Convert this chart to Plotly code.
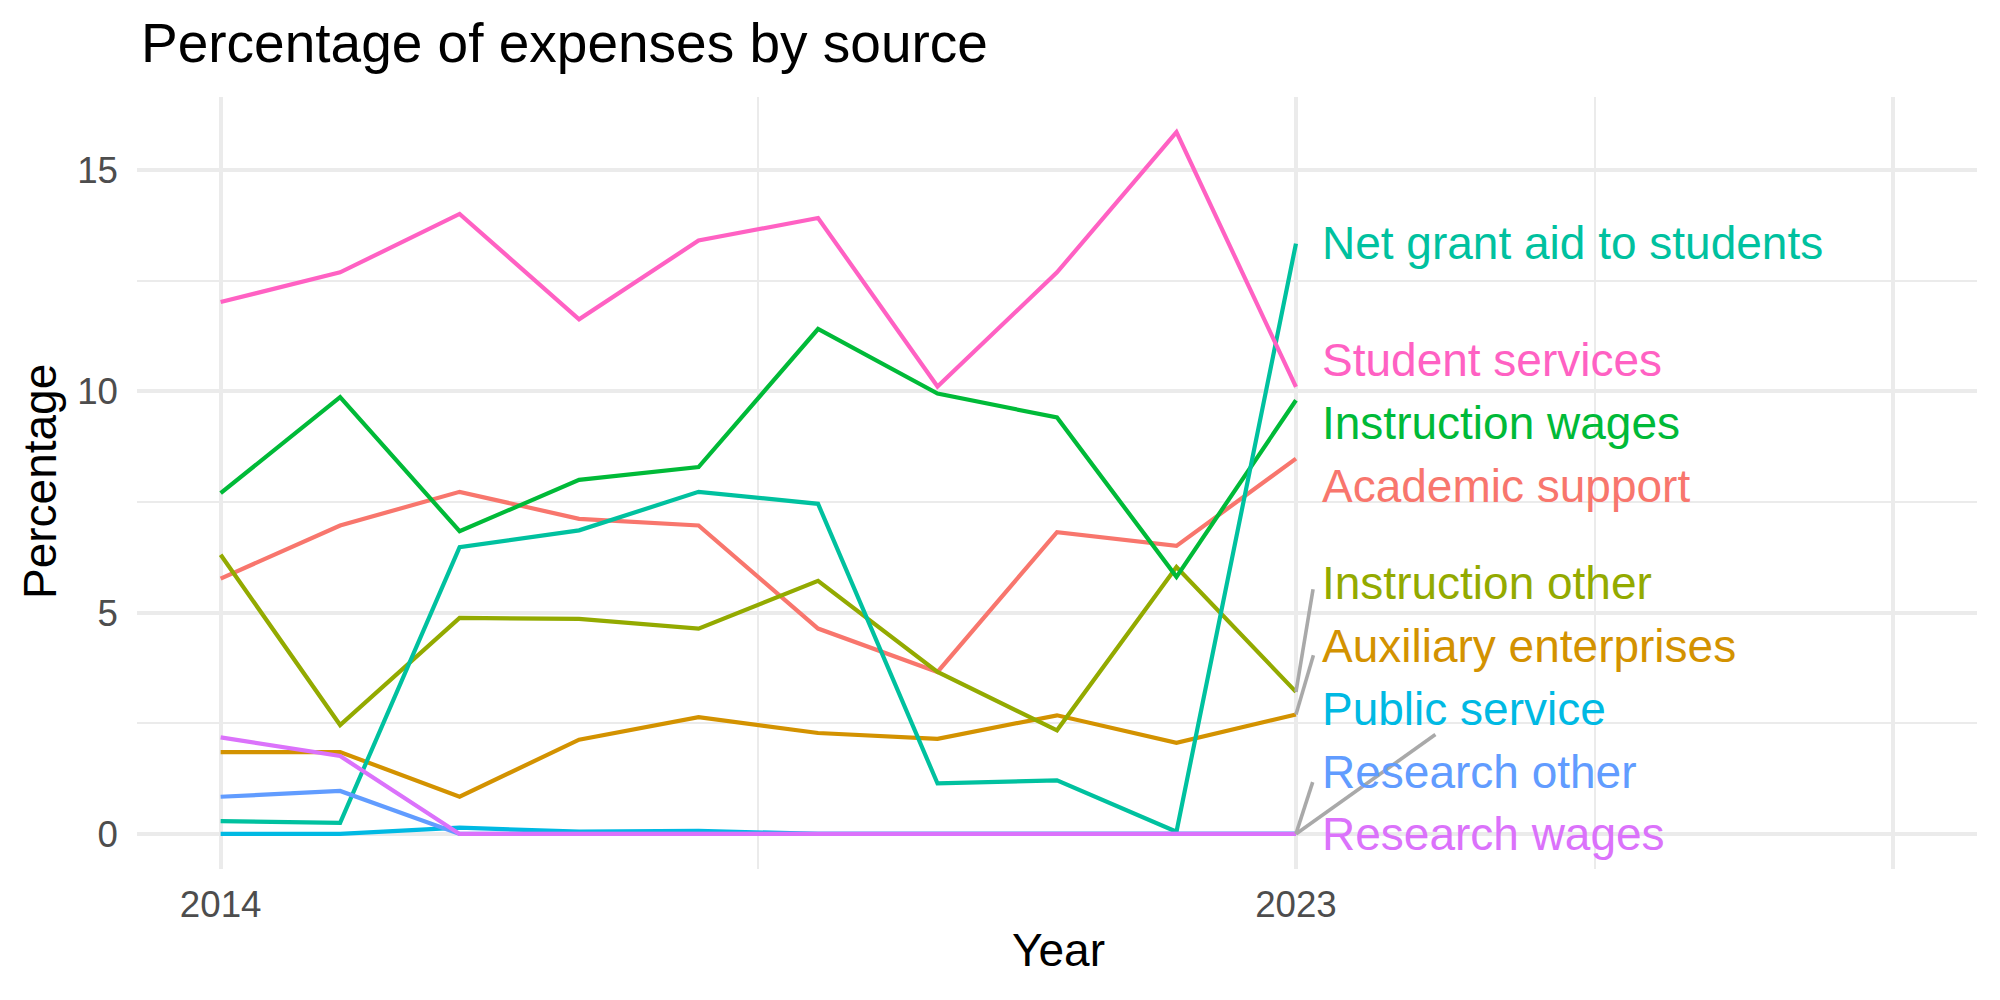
import plotly.graph_objects as go

years = [2014, 2015, 2016, 2017, 2018, 2019, 2020, 2021, 2022, 2023]

categories = [
    "Academic support", "Auxiliary enterprises", "Instruction other",
    "Instruction wages", "Net grant aid to students", "Public service",
    "Research other", "Research wages", "Student services",
]
colors = ["#F8766D", "#D39200", "#93AA00", "#00BA38", "#00C19F",
          "#00B9E3", "#619CFF", "#DB72FB", "#FF61C3"]

academic_support = [5.77, 6.97, 7.73, 7.12, 6.97, 4.64, 3.66, 6.82, 6.51, 8.48]
auxiliary_enterprises = [1.85, 1.85, 0.84, 2.13, 2.64, 2.28, 2.15, 2.68, 2.06, 2.70]
instruction_other = [6.31, 2.46, 4.88, 4.86, 4.64, 5.72, 3.66, 2.34, 6.03, 3.21]
instruction_wages = [7.70, 9.87, 6.84, 8.00, 8.29, 11.41, 9.95, 9.41, 5.81, 9.80]
net_grant_aid = [0.29, 0.25, 6.48, 6.86, 7.73, 7.46, 1.14, 1.21, 0.05, 13.34]
public_service = [0.0, 0.0, 0.14, 0.05, 0.07, 0.0, 0.0, 0.0, 0.0, 0.0]
research_other = [0.84, 0.97, 0.0, 0.0, 0.0, 0.0, 0.0, 0.0, 0.0, 0.0]
research_wages = [2.18, 1.76, 0.0, 0.0, 0.0, 0.0, 0.0, 0.0, 0.0, 0.0]
student_services = [12.02, 12.69, 14.01, 11.63, 13.41, 13.92, 10.11, 12.69, 15.86, 10.10]

series = [academic_support, auxiliary_enterprises, instruction_other,
          instruction_wages, net_grant_aid, public_service,
          research_other, research_wages, student_services]

# repelled label positions (y, data units)
label_y = [7.86, 4.25, 5.67, 9.28, 13.35, 2.83, 1.41, -0.01, 10.70]
label_x = 2023.2
# connector segment end points (None = no segment drawn)
seg_end = [None, (2023.146, 4.04), (2023.143, 5.53), None, None,
           (2024.167, 2.245), (2023.14, 1.17), None, None]

x_breaks = [2014, 2023, 2028]
x_break_labels = ["2014", "2023", ""]
x_minor = [2018.5, 2025.5]
y_breaks = [0, 5, 10, 15]
y_minor = [2.5, 7.5, 12.5]

FONT = "Liberation Sans, Arial, Helvetica, sans-serif"
GRID = "#EBEBEB"

fig = go.Figure()
for name, vals, col in zip(categories, series, colors):
    fig.add_trace(go.Scatter(x=years, y=vals, mode="lines", name=name,
                             line=dict(color=col, width=4.2), showlegend=False))

last_year = years[-1]
for vals, end in zip(series, seg_end):
    if end is None:
        continue
    fig.add_trace(go.Scatter(x=[last_year, end[0]], y=[vals[-1], end[1]], mode="lines",
                             line=dict(color="#A9A9A9", width=3.6), showlegend=False,
                             hoverinfo="skip"))

for name, ly, col in zip(categories, label_y, colors):
    fig.add_annotation(x=label_x, y=ly, xref="x", yref="y", text=name,
                       showarrow=False, xanchor="left", yanchor="middle",
                       font=dict(family=FONT, size=46, color=col))

all_vals = [v for s in series for v in s]
ymin, ymax = min(all_vals), max(all_vals)
yexp = (ymax - ymin) * 0.05
xlim = (2014, 2028)
xexp = (xlim[1] - xlim[0]) * 0.05

L, R, T, B = 137, 23, 97, 131
W, H = 2000, 1000
pw, ph = W - L - R, H - T - B

def px2paper(px, py):
    return (px - L) / pw, (H - B - py) / ph

tx, ty = px2paper(139, 43)
fig.add_annotation(x=tx, y=ty, xref="paper", yref="paper", text="Percentage of expenses by source",
                   showarrow=False, xanchor="left", yanchor="middle",
                   font=dict(family=FONT, size=55, color="black"))
ax_, ay_ = px2paper(1058, 950)
fig.add_annotation(x=ax_, y=ay_, xref="paper", yref="paper", text="Year",
                   showarrow=False, xanchor="center", yanchor="middle",
                   font=dict(family=FONT, size=46, color="black"))
ax_, ay_ = px2paper(40, 482)
fig.add_annotation(x=ax_, y=ay_, xref="paper", yref="paper", text="Percentage",
                   showarrow=False, xanchor="center", yanchor="middle", textangle=-90,
                   font=dict(family=FONT, size=46, color="black"))

fig.update_layout(
    width=W, height=H,
    margin=dict(l=L, r=R, t=T, b=B, pad=0),
    paper_bgcolor="white", plot_bgcolor="white",
    font=dict(family=FONT),
    xaxis=dict(range=[xlim[0] - xexp, xlim[1] + xexp], tickvals=x_breaks, ticktext=x_break_labels,
               showgrid=True, gridcolor=GRID, gridwidth=4, zeroline=False, showline=False,
               ticks="", ticklabelstandoff=10,
               tickfont=dict(family=FONT, size=36.7, color="#4D4D4D"),
               minor=dict(tickvals=x_minor, showgrid=True, gridcolor=GRID, gridwidth=2, ticks="")),
    yaxis=dict(range=[ymin - yexp, ymax + yexp], tickvals=y_breaks,
               showgrid=True, gridcolor=GRID, gridwidth=4, zeroline=False, showline=False,
               ticks="", ticklabelstandoff=18,
               tickfont=dict(family=FONT, size=36.7, color="#4D4D4D"),
               minor=dict(tickvals=y_minor, showgrid=True, gridcolor=GRID, gridwidth=2, ticks="")),
)

fig.write_html("out.html")
